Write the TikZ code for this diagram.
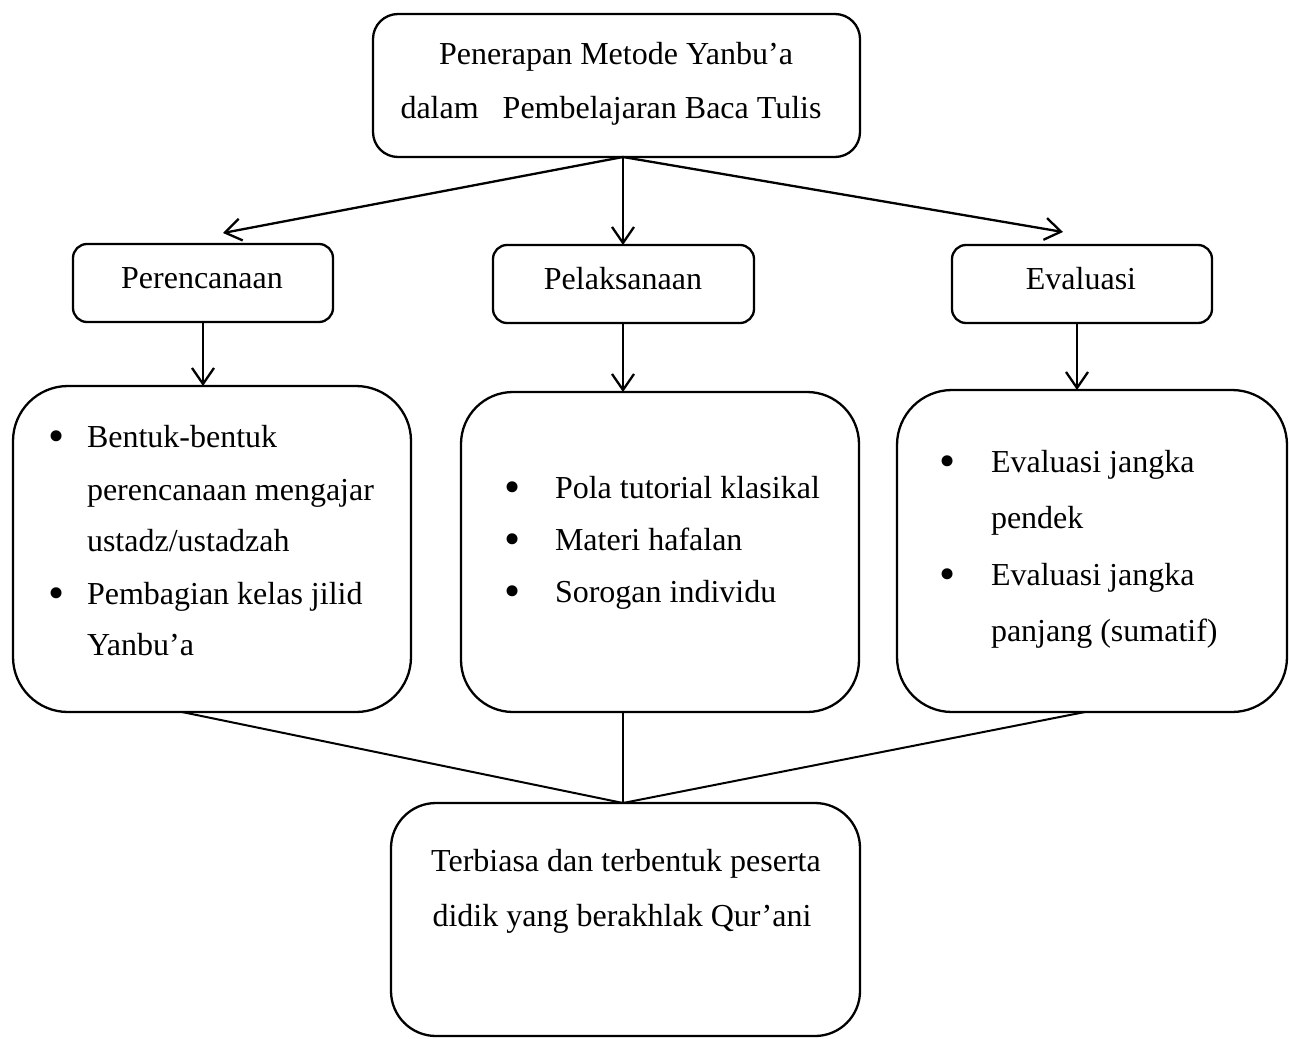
\documentclass[tikz,border=0pt]{standalone}
\usepackage{fontspec}
\setmainfont{Liberation Serif}
\usetikzlibrary{arrows.meta}
\begin{document}
\begin{tikzpicture}[x=1pt,y=-1pt,
  box/.style={draw, line width=2.3pt, rounded corners=#1, inner sep=0pt, outer sep=0pt},
  txt/.style={font=\fontsize{32}{38}\selectfont, inner sep=0pt, outer sep=0pt},
  bul/.style={font=\fontsize{46}{50}\selectfont, inner sep=0pt, outer sep=0pt},
  arr/.style={line width=2.3pt, -{Straight Barb[length=16pt,width=22pt]}},
  ln/.style={line width=2pt}]
\useasboundingbox (0,0) rectangle (1289,1038);
% boxes
\node[box=25pt, minimum width=487pt, minimum height=143pt] (top) at (616.5,85.5) {};
\node[box=14pt, minimum width=260pt, minimum height=78pt] (plan) at (203,283) {};
\node[box=14pt, minimum width=261pt, minimum height=78pt] (pelak) at (623.5,284) {};
\node[box=14pt, minimum width=260pt, minimum height=78pt] (eval) at (1082,284) {};
\node[box=55pt, minimum width=398pt, minimum height=326pt] (bigL) at (212,549) {};
\node[box=52pt, minimum width=398pt, minimum height=320pt] (bigM) at (660,552) {};
\node[box=55pt, minimum width=390pt, minimum height=322pt] (bigR) at (1092,551) {};
\node[box=45pt, minimum width=469pt, minimum height=233pt] (bot) at (625.5,919.5) {};
% texts
\node[txt, anchor=base] (t1) at (616,65) {Penerapan Metode Yanbu’a};
\node[txt, anchor=base] (t2) at (611,119) {dalam\ \ \ Pembelajaran Baca Tulis};
\node[txt, anchor=base] (p1) at (202,288) {Perencanaan};
\node[txt, anchor=base] (p2) at (623,289) {Pelaksanaan};
\node[txt, anchor=base] (p3) at (1081,289) {Evaluasi};
% left list
\node[bul, anchor=base] (bl1) at (57,451) {•};
\node[txt, anchor=base west] (l1) at (87,447) {Bentuk-bentuk};
\node[txt, anchor=base west] (l2) at (87,500) {perencanaan mengajar};
\node[txt, anchor=base west] (l3) at (87,551) {ustadz/ustadzah};
\node[bul, anchor=base] (bl2) at (57,608) {•};
\node[txt, anchor=base west] (l4) at (87,604) {Pembagian kelas jilid};
\node[txt, anchor=base west] (l5) at (87,655) {Yanbu’a};
% middle list
\node[bul, anchor=base] (bm1) at (513,502) {•};
\node[txt, anchor=base west] (m1) at (555,498) {Pola tutorial klasikal};
\node[bul, anchor=base] (bm2) at (513,554) {•};
\node[txt, anchor=base west] (m2) at (555,550) {Materi hafalan};
\node[bul, anchor=base] (bm3) at (513,606) {•};
\node[txt, anchor=base west] (m3) at (555,602) {Sorogan individu};
% right list
\node[bul, anchor=base] (br1) at (948,476) {•};
\node[txt, anchor=base west] (r1) at (991,472) {Evaluasi jangka};
\node[txt, anchor=base west] (r2) at (991,528) {pendek};
\node[bul, anchor=base] (br2) at (948,589) {•};
\node[txt, anchor=base west] (r3) at (991,585) {Evaluasi jangka};
\node[txt, anchor=base west] (r4) at (991,641) {panjang (sumatif)};
% bottom
\node[txt, anchor=base] (b1) at (626,871) {Terbiasa dan terbentuk peserta};
\node[txt, anchor=base] (b2) at (622,926) {didik yang berakhlak Qur’ani};
% connectors
\coordinate (fan) at (623,157);
\coordinate (tipL) at (223,233);
\coordinate (tipR) at (1063,232);
\draw[arr] (fan) -- (tipL);
\draw[arr] (fan) -- (fan |- pelak.north);
\draw[arr] (fan) -- (tipR);
\draw[arr] (plan.south) -- (plan.south |- bigL.north);
\draw[arr] (pelak.south -| fan) -- (fan |- bigM.north);
\coordinate (es) at (1077,323);
\draw[arr] (es) -- (es |- bigR.north);
\coordinate (join) at (623,803);
\coordinate (sL) at (182,712);
\coordinate (sR) at (1085,712);
\draw[ln] (sL) -- (join);
\draw[ln] (bigM.south -| join) -- (join);
\draw[ln] (sR) -- (join);
\end{tikzpicture}
\end{document}
